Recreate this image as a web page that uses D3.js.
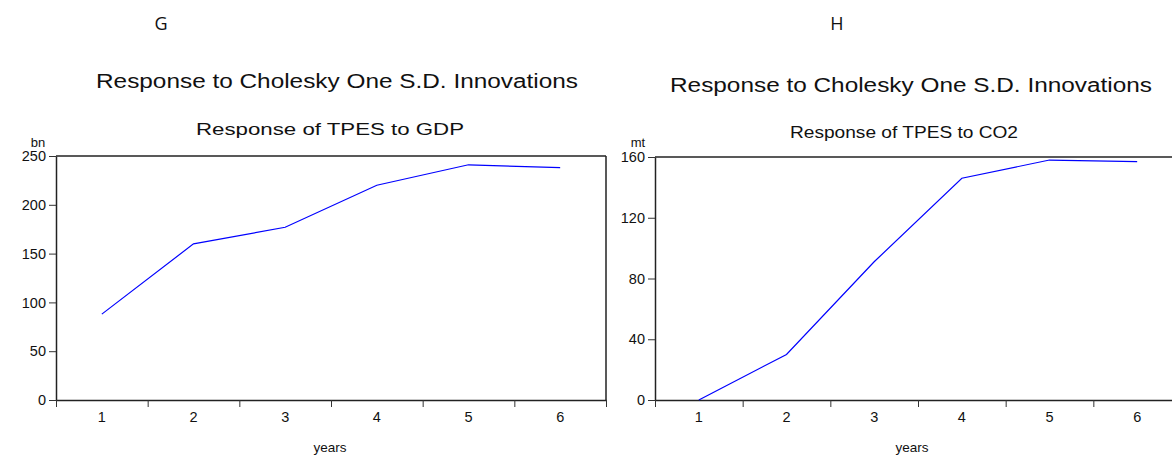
<!DOCTYPE html>
<html><head><meta charset="utf-8">
<script src="https://cdn.jsdelivr.net/npm/d3@7"></script>
<style>
body{margin:0;background:#fff;}
svg{display:block;}
text{font-family:"Liberation Sans",Arial,sans-serif;fill:#111;}
</style></head><body>
<svg id="c" width="1172" height="457"></svg>
<script>
const periods = [1, 2, 3, 4, 5, 6];
const gdpResponse = [88, 160, 177, 220, 241, 238];
const co2Response = [0, 30, 91, 146, 158, 157];
const gdpTicks = [0, 50, 100, 150, 200, 250];
const co2Ticks = [0, 40, 80, 120, 160];
const panelLetters = ["G", "H"];
const mainTitle = "Response to Cholesky One S.D. Innovations";
const subTitles = ["Response of TPES to GDP", "Response of TPES to CO2"];
const units = ["bn", "mt"];
const xLabel = "years";

const svg = d3.select("#c");

const panels = [
  {values: gdpResponse, ticks: gdpTicks, max: 250, x0: 56, x1: 606, top: 156, bottom: 400,
   letterX: 161, titleX: 337, titleW: 482, titleY: 88, subX: 330, subW: 268, subY: 135, yearsX: 330, unitX: 38},
  {values: co2Response, ticks: co2Ticks, max: 160, x0: 655, x1: 1181, top: 157, bottom: 400,
   letterX: 837, titleX: 911, titleW: 482, titleY: 92, subX: 904, subW: 228, subY: 138, yearsX: 912, unitX: 638}
];

panels.forEach((p, i) => {
  const g = svg.append("g");
  const x = d3.scaleLinear().domain([0.5, 6.5]).range([p.x0, p.x1]);
  const y = d3.scaleLinear().domain([0, p.max]).range([p.bottom, p.top]);

  g.append("text").attr("x", p.letterX).attr("y", 30).attr("text-anchor", "middle")
    .style("font-family", "'Open Sans',sans-serif").style("font-size", "18px").text(panelLetters[i]);
  g.append("text").attr("x", p.titleX).attr("y", p.titleY).attr("text-anchor", "middle")
    .style("font-size", "20px").attr("textLength", p.titleW).attr("lengthAdjust", "spacingAndGlyphs").text(mainTitle);
  g.append("text").attr("x", p.subX).attr("y", p.subY).attr("text-anchor", "middle")
    .style("font-size", "16px").attr("textLength", p.subW).attr("lengthAdjust", "spacingAndGlyphs").text(subTitles[i]);

  g.append("line").attr("x1", p.x0).attr("x2", p.x1).attr("y1", p.top).attr("y2", p.top)
    .attr("stroke", "#222").attr("stroke-width", 1.5);
  g.append("line").attr("x1", p.x1).attr("x2", p.x1).attr("y1", p.top).attr("y2", p.bottom)
    .attr("stroke", "#222").attr("stroke-width", 1.5);

  const ya = g.append("g").attr("transform", `translate(${p.x0},0)`)
    .call(d3.axisLeft(y).tickValues(p.ticks).tickSize(7).tickPadding(3).tickSizeOuter(0));
  ya.select(".domain").attr("stroke", "#222").attr("stroke-width", 1.5);
  ya.selectAll(".tick line").attr("stroke", "#333");
  ya.selectAll(".tick text").style("font-size", "14.5px").style("font-family", "'Liberation Sans',Arial,sans-serif").attr("fill", "#111");

  const xa = g.append("g").attr("transform", `translate(0,${p.bottom})`)
    .call(d3.axisBottom(x).tickValues(d3.range(0.5, 7, 1)).tickSize(7).tickFormat("").tickSizeOuter(0));
  xa.select(".domain").attr("stroke", "#222").attr("stroke-width", 1.5);
  xa.selectAll(".tick line").attr("stroke", "#333");
  g.selectAll(".xl").data(periods).join("text").attr("class", "xl")
    .attr("x", d => x(d)).attr("y", p.bottom + 22).attr("text-anchor", "middle")
    .style("font-size", "14.5px").text(d => d);

  g.append("text").attr("x", p.yearsX).attr("y", 452).attr("text-anchor", "middle")
    .style("font-size", "13.5px").text(xLabel);
  g.append("text").attr("x", p.unitX).attr("y", 147).attr("text-anchor", "middle")
    .style("font-size", "13px").text(units[i]);

  const line = d3.line().x((d, k) => x(periods[k])).y(d => y(d));
  g.append("path").datum(p.values).attr("d", line).attr("fill", "none")
    .attr("stroke", "#0000ff").attr("stroke-width", 1.2);
});
</script>
</body></html>
